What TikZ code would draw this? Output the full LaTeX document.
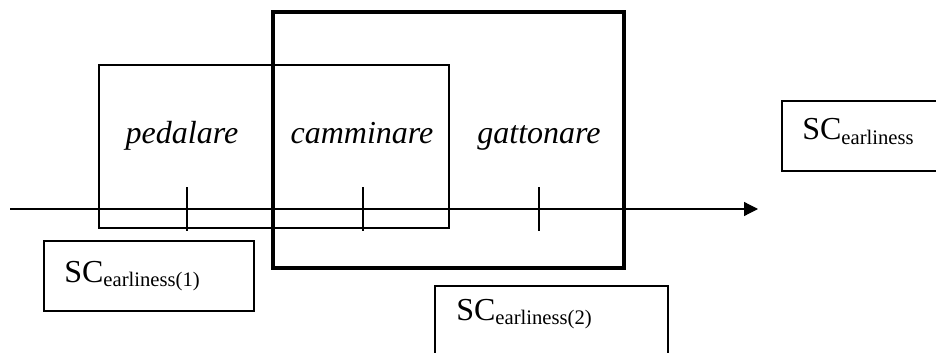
\documentclass[tikz,border=0pt]{standalone}
\usepackage{fontspec}
\setmainfont{Liberation Serif}
\usepackage{tikz}
\usetikzlibrary{arrows.meta}
\tikzset{
    tick/.pic = {
    \draw[line width=0.9pt] (0,-22) -- (0,22);
    }
}
\newcommand{\scsub}[1]{\raisebox{-3pt}{\fontsize{15.5}{16}\selectfont #1}}

\begin{document}
\begin{tikzpicture}[x=0.75pt,y=-0.75pt,
    thinbox/.style={draw, line width=0.9pt, inner sep=0pt},
    thickbox/.style={draw, line width=2.4pt, inner sep=0pt},
    verb/.style={font=\fontsize{24}{28}\selectfont\itshape, anchor=base, inner sep=0pt},
    sclabel/.style={font=\fontsize{24}{28}\selectfont, anchor=base west, inner sep=0pt}]
    \useasboundingbox (0,0) rectangle (936,353);
    \clip (0,0) rectangle (936,353);

    % windows
    \node[thinbox, minimum width=262.5pt, minimum height=122.25pt] (small) at (274,146.5) {};
    \node[thickbox, minimum width=263.25pt, minimum height=192pt] (large) at (448.5,140) {};

    % time axis
    \coordinate (start) at (10,209);
    \coordinate (end) at (758,209);
    \draw [-{Triangle[length=10.5pt,width=10.5pt]}, line width=0.9pt] (start) -- (end);
    \path (187,209) pic {tick};
    \path (363,209) pic {tick};
    \path (539,209) pic {tick};

    % verbs
    \node[verb] (ped) at (182,143) {pedalare};
    \node[verb] (cam) at (362,143) {camminare};
    \node[verb] (gat) at (539,143) {gattonare};

    % SC boxes
    \node[thinbox, minimum width=157.5pt, minimum height=52.5pt] (box1) at (149,276) {};
    \node[thinbox, minimum width=174.75pt, minimum height=60pt] (box2) at (551.5,326) {};
    \node[thinbox, minimum width=150pt, minimum height=52.5pt] (box3) at (882,136) {};
    \node[sclabel] (sc1) at (64,282) {SC\scsub{earliness(1)}};
    \node[sclabel] (sc2) at (456,320) {SC\scsub{earliness(2)}};
    \node[sclabel] (sc3) at (802,140) {SC\scsub{earliness}};
\end{tikzpicture}
\end{document}
